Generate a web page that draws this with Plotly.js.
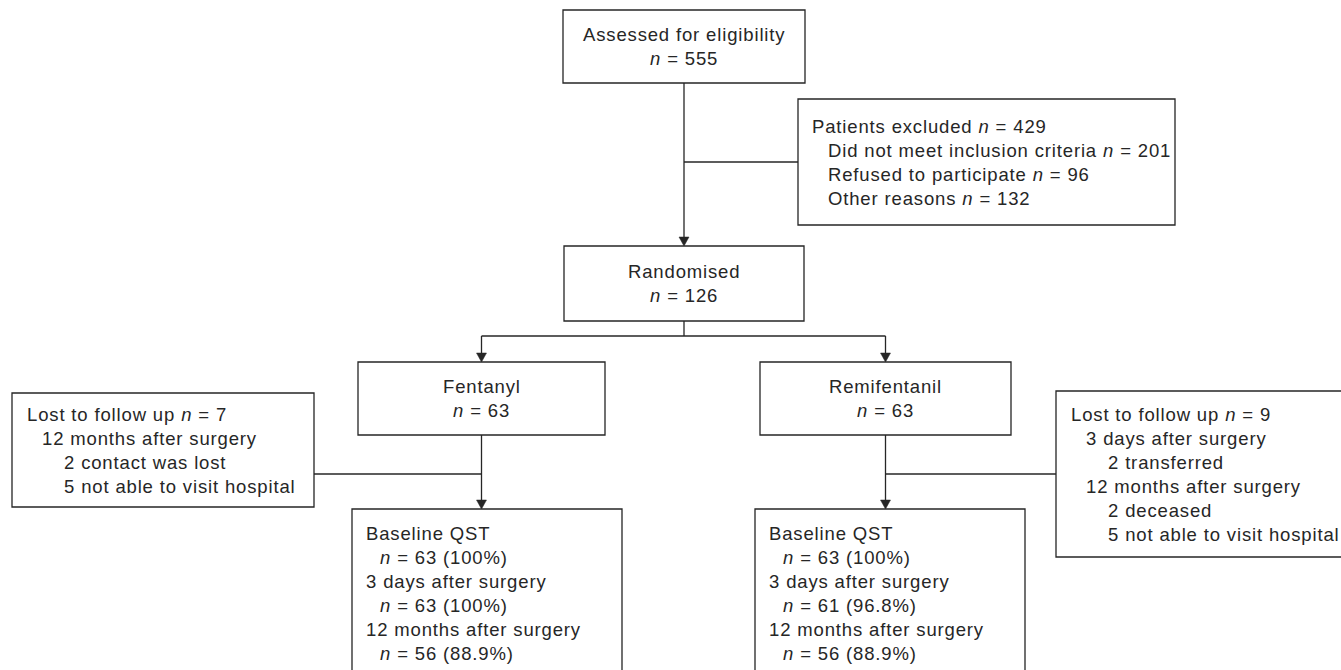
<!DOCTYPE html>
<html>
<head>
<meta charset="utf-8">
<script src="https://cdn.plot.ly/plotly-3.0.1.min.js"></script>
<style>
  html, body { margin: 0; padding: 0; background: #ffffff; }
  #chart { width: 1341px; height: 670px; }
  .annotation-text { letter-spacing: 0.85px; }
</style>
</head>
<body>
<div id="chart"></div>
<script>
// ---------------- DATA ----------------
const assessedN = 555;
const excludedN = 429;
const excludedReasons = ['Did not meet inclusion criteria', 'Refused to participate', 'Other reasons'];
const excludedCounts = [201, 96, 132];
const randomisedN = 126;
const groups = ['Fentanyl', 'Remifentanil'];
const groupN = [63, 63];
const lostN = [7, 9];
const lostFentanyl = [['12 months after surgery', ['2 contact was lost', '5 not able to visit hospital']]];
const lostRemifentanil = [['3 days after surgery', ['2 transferred']],
                          ['12 months after surgery', ['2 deceased', '5 not able to visit hospital']]];
const timepoints = ['Baseline QST', '3 days after surgery', '12 months after surgery'];
const analysedFentanylN = [63, 63, 56];
const analysedFentanylPct = ['100%', '100%', '88.9%'];
const analysedRemifentanilN = [63, 61, 56];
const analysedRemifentanilPct = ['100%', '96.8%', '88.9%'];

// ---------------- LAYOUT GEOMETRY ----------------
const W = 1341, H = 670;
const LINE = 24;
const box = {
  assessed:  {x0: 563, x1: 805, y0: 10, y1: 83},
  excluded:  {x0: 798, x1: 1175, y0: 99, y1: 225},
  random:    {x0: 564, x1: 804, y0: 246, y1: 321},
  fent:      {x0: 358, x1: 605, y0: 362, y1: 435},
  remi:      {x0: 760, x1: 1011, y0: 362, y1: 435},
  lostL:     {x0: 12, x1: 314, y0: 393, y1: 507},
  lostR:     {x0: 1056, x1: 1360, y0: 391, y1: 557},
  baseL:     {x0: 352, x1: 622, y0: 509, y1: 690},
  baseR:     {x0: 755, x1: 1025, y0: 509, y1: 690}
};
const splitY = 336;
const lostBranchY = 474;
const INK = '#262626';
const FONT = {family: 'Liberation Sans, Arial, sans-serif', size: 18.5, color: INK};

const shapes = [];
const annotations = [];
const cx = b => (b.x0 + b.x1) / 2;
const cy = b => (b.y0 + b.y1) / 2;

function rect(b) {
  shapes.push({type: 'rect', xref: 'x', yref: 'y', x0: b.x0, x1: b.x1, y0: b.y0, y1: b.y1,
    line: {color: INK, width: 1.3}, fillcolor: 'rgba(0,0,0,0)'});
}
function seg(x0, y0, x1, y1) {
  shapes.push({type: 'line', xref: 'x', yref: 'y', x0, y0, x1, y1, line: {color: INK, width: 1.3}});
}
function arrowDown(x, yTop, yTip) {
  seg(x, yTop, x, yTip - 6);
  const w = 5, h = 9;
  shapes.push({type: 'path', xref: 'x', yref: 'y',
    path: `M ${x - w},${yTip - h} L ${x + w},${yTip - h} L ${x},${yTip} Z`,
    fillcolor: INK, line: {color: INK, width: 0.5}});
}
function text(t, x, y, anchor) {
  annotations.push({text: t, x, y, xref: 'x', yref: 'y', xanchor: anchor || 'left', yanchor: 'middle',
    showarrow: false, font: FONT, borderpad: 0, borderwidth: 0, align: anchor === 'center' ? 'center' : 'left'});
}
const nTxt = v => `<i>n</i> = ${v}`;

// Boxes
Object.values(box).forEach(rect);

// Connectors
arrowDown(cx(box.assessed), box.assessed.y1, box.random.y0);
seg(cx(box.assessed), cy(box.excluded), box.excluded.x0, cy(box.excluded));
seg(cx(box.random), box.random.y1, cx(box.random), splitY);
seg(cx(box.fent), splitY, cx(box.remi), splitY);
arrowDown(cx(box.fent), splitY, box.fent.y0);
arrowDown(cx(box.remi), splitY, box.remi.y0);
arrowDown(cx(box.fent), box.fent.y1, box.baseL.y0);
arrowDown(cx(box.remi), box.remi.y1, box.baseR.y0);
seg(box.lostL.x1, lostBranchY, cx(box.fent), lostBranchY);
seg(cx(box.remi), lostBranchY, box.lostR.x0, lostBranchY);

// Centred two-line boxes
function centred(b, l1, l2) {
  text(l1, cx(b), cy(b) - LINE / 2, 'center');
  text(l2, cx(b), cy(b) + LINE / 2, 'center');
}
centred(box.assessed, 'Assessed for eligibility', nTxt(assessedN));
centred(box.random, 'Randomised', nTxt(randomisedN));
centred(box.fent, groups[0], nTxt(groupN[0]));
centred(box.remi, groups[1], nTxt(groupN[1]));

// Excluded
(function () {
  const b = box.excluded;
  const lines = [['Patients excluded ' + nTxt(excludedN), 0]];
  excludedReasons.forEach((r, i) => lines.push([r + ' ' + nTxt(excludedCounts[i]), 1]));
  const y0 = cy(b) - LINE * (lines.length - 1) / 2;
  lines.forEach((l, i) => text(l[0], b.x0 + 14 + l[1] * 16, y0 + i * LINE));
})();

// Lost to follow up
function lostBox(b, total, detail) {
  const lines = [['Lost to follow up ' + nTxt(total), 0]];
  detail.forEach(d => { lines.push([d[0], 1]); d[1].forEach(s => lines.push([s, 2])); });
  const y0 = cy(b) - LINE * (lines.length - 1) / 2;
  const ind = [15, 30, 52];
  lines.forEach((l, i) => text(l[0], b.x0 + ind[l[1]], y0 + i * LINE));
}
lostBox(box.lostL, lostN[0], lostFentanyl);
lostBox(box.lostR, lostN[1], lostRemifentanil);

// Analysed boxes
function analysed(b, ns, pcts) {
  const y0 = b.y0 + LINE;
  timepoints.forEach((t, i) => {
    text(t, b.x0 + 14, y0 + i * 2 * LINE);
    text(`${nTxt(ns[i])} (${pcts[i]})`, b.x0 + 28, y0 + (i * 2 + 1) * LINE);
  });
}
analysed(box.baseL, analysedFentanylN, analysedFentanylPct);
analysed(box.baseR, analysedRemifentanilN, analysedRemifentanilPct);

const layout = {
  width: W, height: H,
  margin: {l: 0, r: 0, t: 0, b: 0},
  paper_bgcolor: '#ffffff', plot_bgcolor: '#ffffff',
  xaxis: {range: [0, W], visible: false, fixedrange: true},
  yaxis: {range: [H, 0], visible: false, fixedrange: true},
  showlegend: false,
  shapes, annotations
};
Plotly.newPlot('chart', [], layout, {displayModeBar: false, staticPlot: true});
</script>
</body>
</html>
